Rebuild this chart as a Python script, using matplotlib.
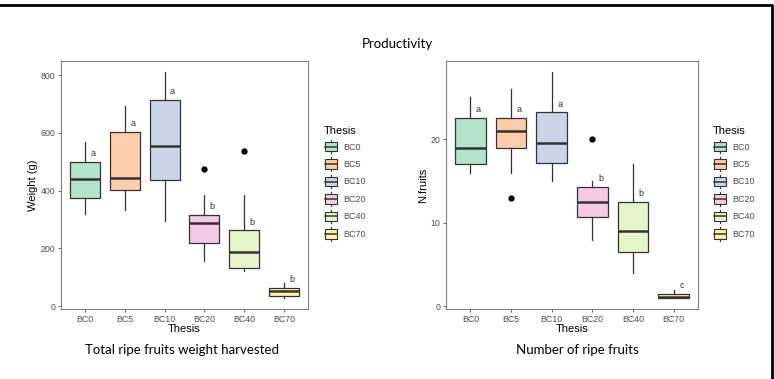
import matplotlib
matplotlib.use("Agg")
import matplotlib.pyplot as plt
from matplotlib.patches import Rectangle
from matplotlib.lines import Line2D
from matplotlib.legend_handler import HandlerBase

plt.rcParams["font.family"] = ["Liberation Sans", "DejaVu Sans"]

# data
theses = ["BC0", "BC5", "BC10", "BC20", "BC40", "BC70"]
colors = ["#B3E2CD", "#FDCDAC", "#CBD5E8", "#F4CAE4", "#E6F5C9", "#FFF2AE"]

# weight (g): whisker low, Q1, median, Q3, whisker high
w_low = [318, 333, 294, 155, 121, 29]
w_q1 = [375, 401, 438, 217, 132, 36]
w_med = [441, 445, 553, 287, 189, 51]
w_q3 = [498, 602, 714, 316, 262, 64]
w_high = [568, 693, 810, 386, 386, 79]
w_out = [[], [], [], [475], [537], []]
w_letters = ["a", "a", "a", "b", "b", "b"]

# number of fruits
n_low = [16, 16, 15, 8, 4, 1]
n_q1 = [17, 19, 17.2, 10.75, 6.5, 1]
n_med = [19, 21, 19.5, 12.5, 9, 1.1]
n_q3 = [22.5, 22.5, 23.2, 14.25, 12.5, 1.5]
n_high = [25, 26, 28, 15, 17, 2]
n_out = [[], [13], [], [20], [], []]
n_letters = ["a", "a", "a", "b", "b", "c"]

tick_grey = "#4D4D4D"
line_col = "#333333"


class BoxKey(HandlerBase):
    def create_artists(self, legend, orig_handle, xd, yd, width, height, fontsize, trans):
        face = orig_handle.get_facecolor()
        cx = width / 2 - xd
        vline = Line2D([cx, cx], [-yd, height - yd], color=line_col, lw=0.8,
                       transform=trans)
        rect = Rectangle((-xd + 1, -yd + height * 0.15), width - 2, height * 0.7,
                         facecolor=face, edgecolor=line_col, lw=0.8, transform=trans)
        med = Line2D([-xd + 1, width - xd - 1], [height / 2 - yd] * 2, color=line_col,
                     lw=1.1, transform=trans)
        return [vline, rect, med]


def draw_panel(ax, low, q1, med, q3, high, outs, letters, ylabel, yticks, ylim, off):
    stats = []
    for i in range(len(theses)):
        stats.append(dict(whislo=low[i], q1=q1[i], med=med[i], q3=q3[i],
                          whishi=high[i], fliers=outs[i], label=theses[i]))
    bp = ax.bxp(stats, positions=range(1, 7), widths=0.75, patch_artist=True,
                showcaps=False,
                boxprops=dict(edgecolor=line_col, linewidth=0.9),
                medianprops=dict(color=line_col, linewidth=1.8),
                whiskerprops=dict(color=line_col, linewidth=0.9),
                flierprops=dict(marker="o", markerfacecolor="black",
                                markeredgecolor="black", markersize=3.5))
    for patch, c in zip(bp["boxes"], colors):
        patch.set_facecolor(c)
    for i, lab in enumerate(letters):
        ax.text(i + 1.2, q3[i] + off, lab, ha="center", va="center",
                fontsize=6.5, color="#333333")
    ax.set_xlim(0.4, 6.6)
    ax.set_ylim(*ylim)
    ax.set_yticks(yticks)
    ax.set_xticks(range(1, 7))
    ax.set_xticklabels(theses)
    ax.tick_params(axis="both", labelsize=6.3, labelcolor=tick_grey, color=tick_grey,
                   length=2.5, width=0.6, pad=1.5)
    for s in ax.spines.values():
        s.set_color("#7F7F7F")
        s.set_linewidth(0.8)
    ax.set_xlabel("Thesis", fontsize=8, labelpad=0.5)
    ax.set_ylabel(ylabel, fontsize=8, labelpad=2)
    handles = [Rectangle((0, 0), 1, 1, facecolor=c) for c in colors]
    return handles


fig = plt.figure(figsize=(7.74, 3.79), dpi=100)
W, H = 774, 379

ax1 = fig.add_axes([61 / W, 1 - 309 / H, 247 / W, 248 / H])
ax2 = fig.add_axes([446 / W, 1 - 309 / H, 252 / W, 248 / H])

h1 = draw_panel(ax1, w_low, w_q1, w_med, w_q3, w_high, w_out, w_letters,
                "Weight (g)", [0, 200, 400, 600, 800], (-10, 849), 29)
h2 = draw_panel(ax2, n_low, n_q1, n_med, n_q3, n_high, n_out, n_letters,
                "N.fruits", [0, 10, 20], (-0.3, 29.35), 1.0)

for h, x0 in [(h1, 324), (h2, 713)]:
    leg = fig.legend(h, theses, handler_map={Rectangle: BoxKey()},
                     loc="upper left", bbox_to_anchor=(x0 / W, 1 - 126 / H),
                     frameon=False, title="Thesis", fontsize=6.5,
                     title_fontsize=8, handlelength=1.55, handleheight=1.9,
                     labelspacing=0.45, handletextpad=0.6, borderpad=0,
                     borderaxespad=0, alignment="left")
    for t in leg.get_texts():
        t.set_color(tick_grey)

fig.text(397 / W, 1 - 44 / H, "Productivity", ha="center", va="center",
         fontsize=9.5, family="Lato")
fig.text(182 / W, 1 - 350 / H, "Total ripe fruits weight harvested", ha="center",
         va="center", fontsize=9.5, family="Lato")
fig.text(577 / W, 1 - 350 / H, "Number of ripe fruits", ha="center",
         va="center", fontsize=9.5, family="Lato")

# outer frame (top and right edges only)
fig.add_artist(Line2D([0, 772 / W, 772 / W], [1 - 5 / H, 1 - 5 / H, 0],
                      transform=fig.transFigure, color="black", lw=2))

fig.savefig("out.png", dpi=100)
